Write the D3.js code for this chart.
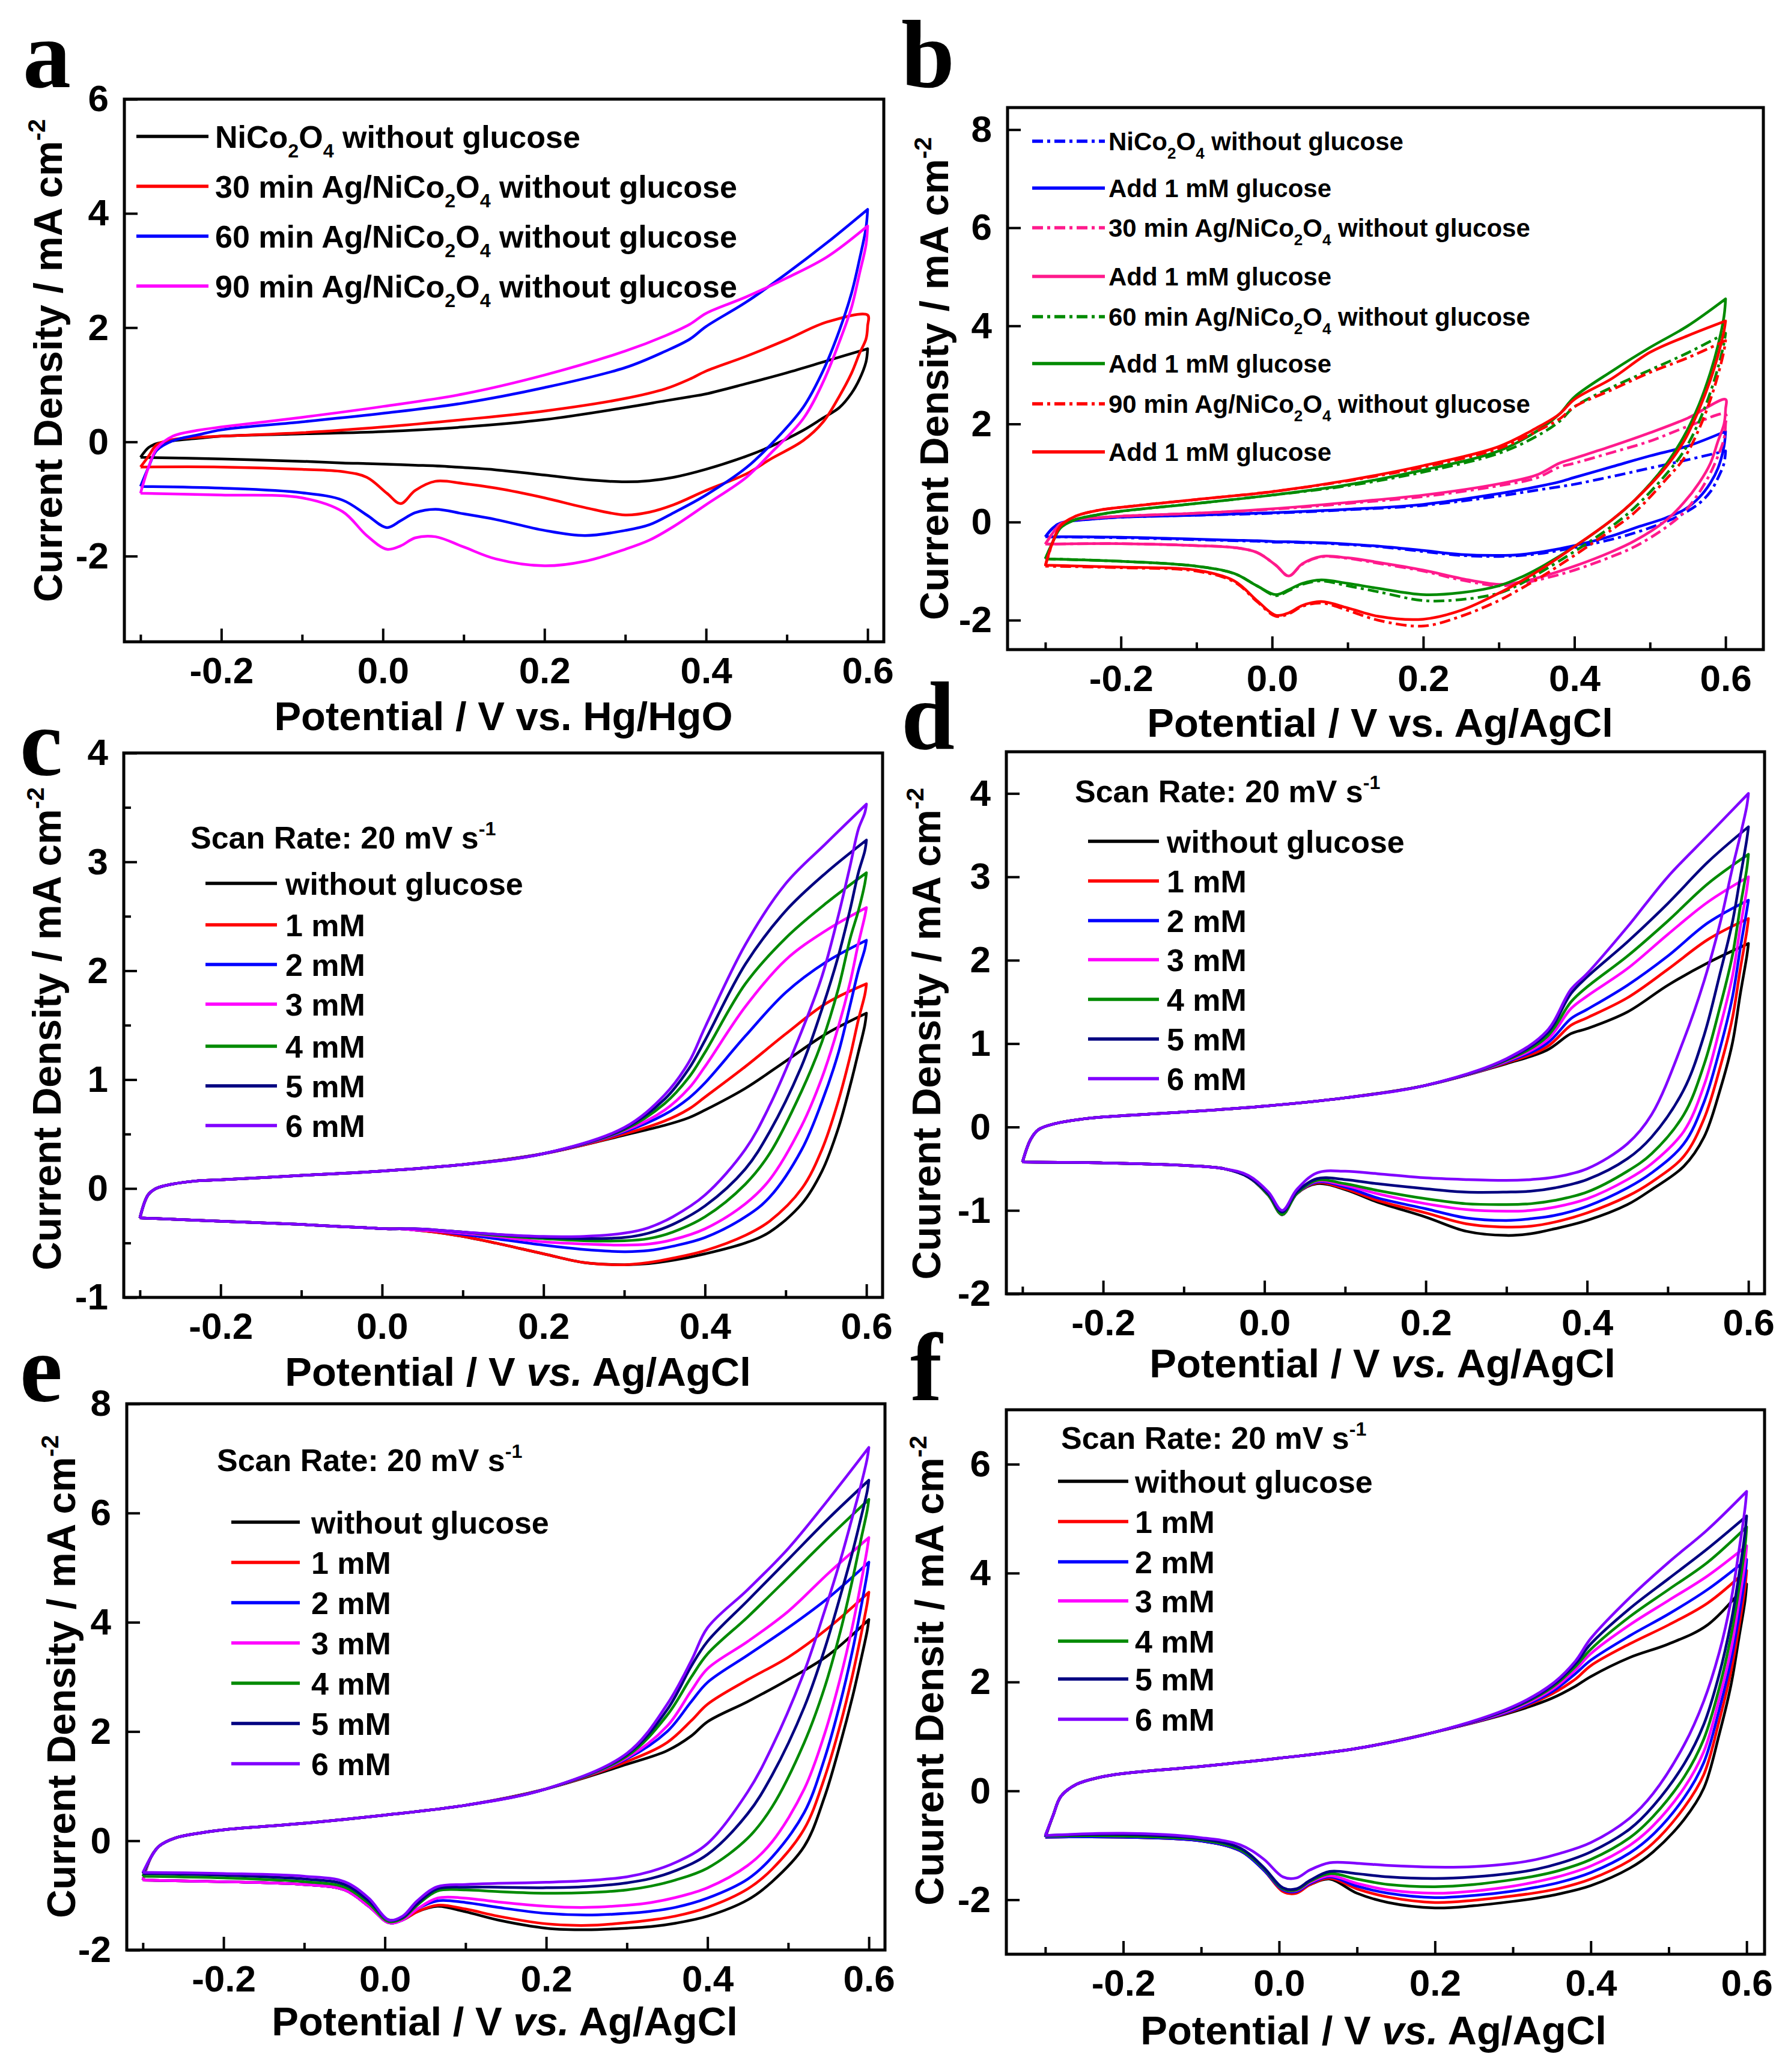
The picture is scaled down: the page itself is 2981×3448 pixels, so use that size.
<!DOCTYPE html>
<html>
<head>
<meta charset="utf-8">
<script src="https://cdn.jsdelivr.net/npm/d3@7"></script>
<style>
  body { margin: 0; background: #fff; }
  text { font-family: "Liberation Sans", Arial, Helvetica, sans-serif; font-weight: bold; fill: #000; }
</style>
</head>
<body>
<script>
// potential grids (V) : forward scan and reverse scan
var potUp = [-0.3, -0.29, -0.28, -0.26, -0.23, -0.2, -0.1, 0, 0.1, 0.2, 0.3, 0.35, 0.38, 0.4, 0.45, 0.5, 0.55, 0.6];
var potDown = [0.6, 0.598, 0.59, 0.58, 0.565, 0.545, 0.52, 0.48, 0.45, 0.4, 0.36, 0.33, 0.3, 0.25, 0.2, 0.14, 0.1, 0.065, 0.04, 0.022, 0.005, -0.02, -0.05, -0.1, -0.2, -0.3];

var xMajor = [-0.2, 0, 0.2, 0.4, 0.6];
var xMinor = [-0.3, -0.1, 0.1, 0.3, 0.5];

// ---- panel a : current density (mA cm-2) ----
var aLabels = ["NiCo_2O_4 without glucose", "30 min Ag/NiCo_2O_4 without glucose", "60 min Ag/NiCo_2O_4 without glucose", "90 min Ag/NiCo_2O_4 without glucose"];
var aBlackUp = [-0.27, -0.1, -0.03, 0.02, 0.06, 0.1, 0.14, 0.18, 0.26, 0.39, 0.6, 0.72, 0.79, 0.84, 1.02, 1.21, 1.42, 1.63];
var aBlackDown = [1.63, 1.4, 1.1, 0.85, 0.6, 0.42, 0.2, -0.08, -0.25, -0.48, -0.62, -0.68, -0.7, -0.66, -0.58, -0.49, -0.45, -0.42, -0.41, -0.4, -0.39, -0.38, -0.37, -0.34, -0.3, -0.27];
var aRedUp = [-0.44, -0.25, -0.05, 0.04, 0.08, 0.1, 0.16, 0.26, 0.39, 0.54, 0.76, 0.93, 1.1, 1.24, 1.5, 1.79, 2.1, 2.22];
var aRedDown = [2.03, 1.8, 1.55, 1.2, 0.8, 0.35, 0.02, -0.3, -0.56, -0.85, -1.1, -1.23, -1.28, -1.15, -0.98, -0.81, -0.73, -0.69, -0.85, -1.08, -0.9, -0.62, -0.52, -0.48, -0.44, -0.44];
var aBlueUp = [-0.78, -0.44, -0.15, 0.02, 0.12, 0.21, 0.35, 0.5, 0.68, 0.95, 1.3, 1.59, 1.8, 2.02, 2.45, 2.95, 3.49, 4.07];
var aBlueDown = [4.07, 3.75, 3.2, 2.6, 1.95, 1.25, 0.6, -0.05, -0.45, -0.93, -1.24, -1.45, -1.55, -1.64, -1.55, -1.36, -1.26, -1.18, -1.24, -1.38, -1.5, -1.28, -1.02, -0.89, -0.81, -0.78];
var aMagUp = [-0.9, -0.44, -0.12, 0.1, 0.2, 0.26, 0.43, 0.62, 0.84, 1.17, 1.59, 1.86, 2.06, 2.25, 2.54, 2.87, 3.24, 3.78];
var aMagDown = [3.78, 3.45, 2.95, 2.35, 1.75, 1.05, 0.4, -0.2, -0.62, -1.1, -1.48, -1.72, -1.88, -2.09, -2.17, -2.05, -1.84, -1.66, -1.68, -1.82, -1.88, -1.64, -1.22, -0.98, -0.93, -0.9];

// ---- panel b ----
var bLabels = ["NiCo_2O_4 without glucose", "Add 1 mM glucose", "30 min Ag/NiCo_2O_4 without glucose", "Add 1 mM glucose",
               "60 min Ag/NiCo_2O_4 without glucose", "Add 1 mM glucose", "90 min Ag/NiCo_2O_4 without glucose", "Add 1 mM glucose"];
var bBlueDashUp = [-0.3, -0.12, -0.02, 0.03, 0.07, 0.1, 0.14, 0.18, 0.25, 0.34, 0.53, 0.65, 0.72, 0.77, 0.93, 1.1, 1.27, 1.45];
var bBlueDashDown = [1.45, 1.2, 0.9, 0.62, 0.38, 0.18, 0.0, -0.22, -0.35, -0.52, -0.63, -0.68, -0.7, -0.68, -0.6, -0.5, -0.46, -0.43, -0.42, -0.41, -0.41, -0.39, -0.38, -0.36, -0.32, -0.3];
var bBlueUp = [-0.3, -0.12, -0.02, 0.03, 0.07, 0.1, 0.14, 0.19, 0.26, 0.36, 0.58, 0.72, 0.82, 0.91, 1.13, 1.35, 1.55, 1.85];
var bBlueDown = [1.85, 1.55, 1.1, 0.8, 0.5, 0.25, 0.08, -0.12, -0.28, -0.48, -0.6, -0.66, -0.68, -0.66, -0.58, -0.49, -0.45, -0.42, -0.41, -0.4, -0.4, -0.38, -0.37, -0.35, -0.31, -0.3];
var bPinkDashUp = [-0.45, -0.22, -0.04, 0.05, 0.09, 0.12, 0.18, 0.26, 0.38, 0.52, 0.74, 0.9, 1.12, 1.2, 1.42, 1.65, 1.95, 2.2];
var bPinkDashDown = [2.0, 1.7, 1.35, 1.0, 0.6, 0.2, -0.12, -0.5, -0.7, -0.98, -1.15, -1.25, -1.3, -1.18, -1.0, -0.84, -0.74, -0.71, -0.86, -1.1, -0.88, -0.62, -0.52, -0.48, -0.44, -0.45];
var bPinkUp = [-0.45, -0.22, -0.04, 0.05, 0.09, 0.12, 0.18, 0.27, 0.4, 0.55, 0.78, 0.96, 1.2, 1.3, 1.55, 1.82, 2.12, 2.5];
var bPinkDown = [2.3, 2.0, 1.65, 1.2, 0.8, 0.4, 0.02, -0.38, -0.6, -0.9, -1.1, -1.22, -1.27, -1.15, -0.98, -0.82, -0.73, -0.7, -0.85, -1.1, -0.88, -0.62, -0.52, -0.48, -0.44, -0.45];
var bGreenDashUp = [-0.75, -0.4, -0.12, 0.05, 0.15, 0.22, 0.38, 0.55, 0.74, 1.02, 1.4, 1.75, 2.05, 2.35, 2.75, 3.1, 3.45, 3.85];
var bGreenDashDown = [3.85, 3.65, 3.15, 2.65, 2.05, 1.45, 0.95, 0.3, -0.08, -0.6, -0.98, -1.25, -1.45, -1.58, -1.6, -1.42, -1.3, -1.2, -1.27, -1.4, -1.5, -1.3, -1.05, -0.9, -0.8, -0.75];
var bGreenUp = [-0.75, -0.4, -0.12, 0.05, 0.15, 0.22, 0.38, 0.55, 0.76, 1.06, 1.45, 1.85, 2.2, 2.55, 3.08, 3.56, 4.0, 4.55];
var bGreenDown = [4.55, 4.2, 3.6, 3.05, 2.4, 1.75, 1.15, 0.45, 0.05, -0.5, -0.88, -1.12, -1.3, -1.44, -1.48, -1.35, -1.25, -1.18, -1.25, -1.38, -1.48, -1.3, -1.05, -0.9, -0.8, -0.75];
var bRedDashUp = [-0.9, -0.4, -0.08, 0.12, 0.24, 0.3, 0.46, 0.62, 0.84, 1.12, 1.5, 1.85, 2.1, 2.35, 2.7, 3.05, 3.35, 3.7];
var bRedDashDown = [3.7, 3.5, 3.0, 2.5, 1.9, 1.3, 0.85, 0.2, -0.15, -0.68, -1.08, -1.35, -1.6, -1.92, -2.12, -2.0, -1.8, -1.65, -1.72, -1.87, -1.92, -1.62, -1.22, -1.0, -0.93, -0.9];
var bRedUp = [-0.88, -0.4, -0.08, 0.12, 0.24, 0.3, 0.46, 0.62, 0.85, 1.15, 1.54, 1.92, 2.2, 2.5, 2.93, 3.46, 3.8, 4.1];
var bRedDown = [4.1, 3.9, 3.4, 2.9, 2.3, 1.65, 1.1, 0.45, 0.05, -0.5, -0.92, -1.2, -1.45, -1.8, -1.98, -1.92, -1.75, -1.62, -1.7, -1.85, -1.9, -1.6, -1.2, -0.98, -0.92, -0.88];

// ---- panels c-f : glucose series ----
var concLabels = ["without glucose", "1 mM", "2 mM", "3 mM", "4 mM", "5 mM", "6 mM"];

var cBlackUp = [-0.27, -0.06, 0.0, 0.04, 0.07, 0.08, 0.12, 0.16, 0.22, 0.32, 0.49, 0.58, 0.65, 0.72, 0.92, 1.17, 1.42, 1.61];
var cRedUp = [-0.27, -0.06, 0.0, 0.04, 0.07, 0.08, 0.12, 0.16, 0.22, 0.32, 0.5, 0.62, 0.73, 0.84, 1.12, 1.42, 1.7, 1.88];
var cBlueUp = [-0.27, -0.06, 0.0, 0.04, 0.07, 0.08, 0.12, 0.16, 0.22, 0.32, 0.52, 0.68, 0.83, 0.97, 1.4, 1.8, 2.08, 2.28];
var cMagUp = [-0.27, -0.06, 0.0, 0.04, 0.07, 0.08, 0.12, 0.16, 0.22, 0.32, 0.53, 0.72, 0.92, 1.12, 1.67, 2.1, 2.37, 2.58];
var cGreenUp = [-0.27, -0.06, 0.0, 0.04, 0.07, 0.08, 0.12, 0.16, 0.22, 0.32, 0.54, 0.78, 1.02, 1.25, 1.88, 2.3, 2.62, 2.9];
var cNavyUp = [-0.27, -0.06, 0.0, 0.04, 0.07, 0.08, 0.12, 0.16, 0.22, 0.32, 0.55, 0.82, 1.1, 1.36, 2.06, 2.55, 2.9, 3.2];
var cPurpleUp = [-0.27, -0.06, 0.0, 0.04, 0.07, 0.08, 0.12, 0.16, 0.22, 0.32, 0.56, 0.86, 1.16, 1.48, 2.24, 2.8, 3.17, 3.53];
var cBlackDown = [1.61, 1.5, 1.25, 0.95, 0.55, 0.16, -0.14, -0.4, -0.5, -0.6, -0.66, -0.69, -0.7, -0.68, -0.6, -0.5, -0.44, -0.4, -0.38, -0.37, -0.37, -0.36, -0.35, -0.33, -0.3, -0.27];
var cRedDown = [1.88, 1.78, 1.55, 1.22, 0.8, 0.36, 0.0, -0.3, -0.43, -0.57, -0.64, -0.68, -0.7, -0.68, -0.6, -0.5, -0.44, -0.4, -0.38, -0.37, -0.37, -0.36, -0.35, -0.33, -0.3, -0.27];
var cBlueDown = [2.28, 2.2, 2.0, 1.69, 1.24, 0.8, 0.36, -0.08, -0.26, -0.45, -0.53, -0.57, -0.58, -0.56, -0.52, -0.46, -0.42, -0.39, -0.38, -0.37, -0.37, -0.36, -0.35, -0.33, -0.3, -0.27];
var cMagDown = [2.58, 2.5, 2.25, 1.9, 1.48, 1.02, 0.58, 0.08, -0.14, -0.37, -0.47, -0.51, -0.52, -0.51, -0.49, -0.44, -0.41, -0.39, -0.38, -0.37, -0.37, -0.36, -0.35, -0.33, -0.3, -0.27];
var cGreenDown = [2.9, 2.8, 2.55, 2.3, 1.83, 1.35, 0.9, 0.32, 0.04, -0.26, -0.4, -0.46, -0.48, -0.48, -0.46, -0.43, -0.4, -0.38, -0.37, -0.37, -0.37, -0.36, -0.35, -0.33, -0.3, -0.27];
var cNavyDown = [3.2, 3.1, 2.9, 2.57, 2.13, 1.65, 1.13, 0.52, 0.18, -0.16, -0.33, -0.41, -0.45, -0.46, -0.45, -0.42, -0.4, -0.38, -0.37, -0.37, -0.37, -0.36, -0.35, -0.33, -0.3, -0.27];
var cPurpleDown = [3.53, 3.45, 3.3, 2.97, 2.5, 1.95, 1.45, 0.76, 0.36, -0.06, -0.26, -0.36, -0.41, -0.44, -0.44, -0.42, -0.4, -0.38, -0.37, -0.37, -0.37, -0.36, -0.35, -0.33, -0.3, -0.27];

var dBlackUp = [-0.42, -0.15, -0.03, 0.04, 0.09, 0.12, 0.18, 0.25, 0.35, 0.5, 0.76, 0.92, 1.12, 1.18, 1.38, 1.7, 1.97, 2.2];
var dRedUp = [-0.42, -0.15, -0.03, 0.04, 0.09, 0.12, 0.18, 0.25, 0.35, 0.5, 0.77, 0.96, 1.22, 1.31, 1.55, 1.89, 2.25, 2.5];
var dBlueUp = [-0.42, -0.15, -0.03, 0.04, 0.09, 0.12, 0.18, 0.25, 0.35, 0.5, 0.78, 1.0, 1.3, 1.41, 1.7, 2.05, 2.45, 2.72];
var dMagUp = [-0.42, -0.15, -0.03, 0.04, 0.09, 0.12, 0.18, 0.25, 0.35, 0.5, 0.79, 1.04, 1.42, 1.57, 1.9, 2.31, 2.7, 3.0];
var dGreenUp = [-0.42, -0.15, -0.03, 0.04, 0.09, 0.12, 0.18, 0.25, 0.35, 0.5, 0.8, 1.08, 1.5, 1.68, 2.05, 2.47, 2.92, 3.27];
var dNavyUp = [-0.42, -0.15, -0.03, 0.04, 0.09, 0.12, 0.18, 0.25, 0.35, 0.5, 0.81, 1.12, 1.6, 1.8, 2.22, 2.68, 3.18, 3.6];
var dPurpleUp = [-0.42, -0.15, -0.03, 0.04, 0.09, 0.12, 0.18, 0.25, 0.35, 0.5, 0.82, 1.15, 1.65, 1.84, 2.4, 3.0, 3.5, 4.0];
var dBlackDown = [2.2, 2.05, 1.6, 1.0, 0.45, -0.12, -0.47, -0.75, -0.93, -1.12, -1.22, -1.28, -1.3, -1.25, -1.08, -0.9, -0.75, -0.68, -0.8, -1.05, -0.82, -0.6, -0.5, -0.46, -0.43, -0.42];
var dRedDown = [2.5, 2.35, 1.9, 1.3, 0.72, 0.1, -0.35, -0.66, -0.83, -1.03, -1.14, -1.19, -1.2, -1.16, -1.03, -0.88, -0.74, -0.67, -0.8, -1.05, -0.82, -0.6, -0.5, -0.46, -0.43, -0.42];
var dBlueDown = [2.72, 2.6, 2.15, 1.55, 0.95, 0.3, -0.2, -0.55, -0.73, -0.95, -1.06, -1.1, -1.12, -1.09, -0.98, -0.85, -0.72, -0.66, -0.8, -1.05, -0.82, -0.6, -0.5, -0.46, -0.43, -0.42];
var dMagDown = [3.0, 2.85, 2.4, 1.8, 1.2, 0.5, -0.05, -0.44, -0.63, -0.86, -0.96, -1.0, -1.01, -0.99, -0.92, -0.8, -0.7, -0.65, -0.8, -1.05, -0.82, -0.6, -0.5, -0.46, -0.43, -0.42];
var dGreenDown = [3.27, 3.1, 2.65, 2.05, 1.45, 0.75, 0.15, -0.32, -0.53, -0.78, -0.88, -0.92, -0.93, -0.92, -0.86, -0.76, -0.68, -0.64, -0.8, -1.05, -0.82, -0.6, -0.5, -0.46, -0.43, -0.42];
var dNavyDown = [3.6, 3.45, 3.0, 2.45, 1.85, 1.1, 0.45, -0.12, -0.38, -0.63, -0.73, -0.77, -0.78, -0.78, -0.74, -0.68, -0.63, -0.62, -0.78, -1.02, -0.8, -0.6, -0.5, -0.46, -0.43, -0.42];
var dPurpleDown = [4.0, 3.85, 3.5, 3.1, 2.45, 1.75, 1.05, 0.15, -0.2, -0.5, -0.6, -0.63, -0.64, -0.63, -0.61, -0.56, -0.53, -0.55, -0.75, -1.0, -0.78, -0.58, -0.5, -0.46, -0.43, -0.42];

var eBlackUp = [-0.72, -0.3, -0.1, 0.05, 0.14, 0.2, 0.32, 0.47, 0.65, 0.95, 1.4, 1.65, 1.92, 2.18, 2.55, 2.95, 3.4, 4.05];
var eRedUp = [-0.72, -0.3, -0.1, 0.05, 0.14, 0.2, 0.32, 0.47, 0.65, 0.95, 1.45, 1.8, 2.2, 2.5, 2.95, 3.36, 3.9, 4.55];
var eBlueUp = [-0.72, -0.3, -0.1, 0.05, 0.14, 0.2, 0.32, 0.47, 0.65, 0.95, 1.5, 2.0, 2.55, 2.9, 3.4, 3.9, 4.45, 5.1];
var eMagUp = [-0.72, -0.3, -0.1, 0.05, 0.14, 0.2, 0.32, 0.47, 0.65, 0.95, 1.52, 2.1, 2.75, 3.15, 3.65, 4.2, 4.9, 5.55];
var eGreenUp = [-0.65, -0.3, -0.1, 0.05, 0.14, 0.2, 0.32, 0.47, 0.65, 0.95, 1.55, 2.3, 3.0, 3.42, 4.1, 4.82, 5.55, 6.25];
var eNavyUp = [-0.6, -0.3, -0.1, 0.05, 0.14, 0.2, 0.32, 0.47, 0.65, 0.95, 1.58, 2.4, 3.2, 3.65, 4.4, 5.15, 5.9, 6.6];
var ePurpleUp = [-0.58, -0.3, -0.1, 0.05, 0.14, 0.2, 0.32, 0.47, 0.65, 0.95, 1.6, 2.5, 3.3, 3.9, 4.6, 5.35, 6.25, 7.2];
var eBlackDown = [4.05, 3.85, 3.3, 2.65, 1.8, 0.8, -0.1, -0.75, -1.08, -1.38, -1.51, -1.57, -1.6, -1.63, -1.6, -1.45, -1.3, -1.2, -1.3, -1.45, -1.5, -1.2, -0.9, -0.8, -0.75, -0.72];
var eRedDown = [4.55, 4.35, 3.75, 3.05, 2.15, 1.15, 0.22, -0.52, -0.88, -1.22, -1.38, -1.45, -1.5, -1.55, -1.52, -1.38, -1.25, -1.18, -1.3, -1.45, -1.5, -1.2, -0.9, -0.8, -0.75, -0.72];
var eBlueDown = [5.1, 4.9, 4.25, 3.5, 2.55, 1.5, 0.52, -0.3, -0.7, -1.05, -1.22, -1.29, -1.33, -1.36, -1.33, -1.22, -1.13, -1.1, -1.25, -1.45, -1.5, -1.2, -0.9, -0.8, -0.75, -0.72];
var eMagDown = [5.55, 5.35, 4.7, 3.95, 3.0, 1.95, 0.95, -0.02, -0.45, -0.86, -1.04, -1.13, -1.18, -1.22, -1.2, -1.12, -1.05, -1.05, -1.25, -1.45, -1.5, -1.2, -0.9, -0.8, -0.75, -0.72];
var eGreenDown = [6.25, 6.05, 5.5, 4.8, 3.85, 2.8, 1.8, 0.62, 0.05, -0.5, -0.72, -0.83, -0.9, -0.95, -0.96, -0.93, -0.9, -0.92, -1.18, -1.42, -1.48, -1.15, -0.85, -0.75, -0.68, -0.65];
var eNavyDown = [6.6, 6.4, 5.9, 5.3, 4.5, 3.5, 2.45, 1.2, 0.5, -0.25, -0.55, -0.69, -0.77, -0.84, -0.86, -0.85, -0.85, -0.88, -1.15, -1.4, -1.45, -1.1, -0.8, -0.7, -0.63, -0.6];
var ePurpleDown = [7.2, 7.0, 6.5, 5.95, 5.15, 4.2, 3.1, 1.72, 0.9, -0.05, -0.4, -0.56, -0.66, -0.73, -0.76, -0.78, -0.8, -0.84, -1.1, -1.38, -1.45, -1.05, -0.75, -0.65, -0.6, -0.58];

var fBlackUp = [-0.85, -0.45, -0.1, 0.12, 0.25, 0.32, 0.45, 0.6, 0.78, 1.08, 1.45, 1.7, 1.92, 2.1, 2.45, 2.7, 3.05, 3.8];
var fRedUp = [-0.85, -0.45, -0.1, 0.12, 0.25, 0.32, 0.45, 0.6, 0.78, 1.08, 1.47, 1.78, 2.05, 2.3, 2.7, 3.05, 3.45, 4.05];
var fBlueUp = [-0.85, -0.45, -0.1, 0.12, 0.25, 0.32, 0.45, 0.6, 0.78, 1.08, 1.48, 1.82, 2.15, 2.4, 2.85, 3.25, 3.7, 4.25];
var fMagUp = [-0.83, -0.45, -0.1, 0.12, 0.25, 0.32, 0.45, 0.6, 0.78, 1.08, 1.5, 1.86, 2.22, 2.52, 3.05, 3.5, 3.95, 4.5];
var fGreenUp = [-0.83, -0.45, -0.1, 0.12, 0.25, 0.32, 0.45, 0.6, 0.78, 1.08, 1.52, 1.9, 2.28, 2.6, 3.2, 3.7, 4.2, 4.85];
var fNavyUp = [-0.82, -0.45, -0.1, 0.12, 0.25, 0.32, 0.45, 0.6, 0.78, 1.08, 1.53, 1.93, 2.33, 2.7, 3.35, 3.9, 4.45, 5.05];
var fPurpleUp = [-0.82, -0.45, -0.1, 0.12, 0.25, 0.32, 0.45, 0.6, 0.78, 1.08, 1.55, 1.96, 2.38, 2.8, 3.55, 4.2, 4.8, 5.5];
var fBlackDown = [3.8, 3.5, 2.8, 1.95, 1.05, 0.05, -0.52, -1.12, -1.42, -1.74, -1.89, -1.97, -2.03, -2.11, -2.15, -2.05, -1.88, -1.62, -1.72, -1.85, -1.82, -1.45, -1.1, -0.92, -0.85, -0.85];
var fRedDown = [4.05, 3.75, 3.0, 2.2, 1.3, 0.3, -0.3, -0.96, -1.28, -1.62, -1.79, -1.87, -1.93, -2.01, -2.05, -1.95, -1.8, -1.6, -1.72, -1.88, -1.85, -1.45, -1.1, -0.92, -0.85, -0.85];
var fBlueDown = [4.25, 3.95, 3.2, 2.4, 1.5, 0.52, -0.12, -0.8, -1.14, -1.5, -1.68, -1.77, -1.84, -1.92, -1.96, -1.88, -1.75, -1.58, -1.7, -1.85, -1.82, -1.45, -1.1, -0.92, -0.85, -0.85];
var fMagDown = [4.5, 4.2, 3.45, 2.6, 1.7, 0.72, 0.06, -0.64, -1.0, -1.38, -1.57, -1.67, -1.75, -1.84, -1.88, -1.82, -1.7, -1.56, -1.68, -1.83, -1.8, -1.42, -1.08, -0.9, -0.83, -0.83];
var fGreenDown = [4.85, 4.5, 3.7, 2.85, 1.9, 0.95, 0.26, -0.47, -0.86, -1.26, -1.46, -1.56, -1.63, -1.72, -1.76, -1.72, -1.62, -1.52, -1.66, -1.82, -1.8, -1.42, -1.08, -0.9, -0.83, -0.83];
var fNavyDown = [5.05, 4.75, 3.95, 3.1, 2.15, 1.22, 0.5, -0.28, -0.7, -1.12, -1.33, -1.44, -1.51, -1.58, -1.61, -1.58, -1.52, -1.48, -1.64, -1.8, -1.78, -1.4, -1.05, -0.88, -0.8, -0.82];
var fPurpleDown = [5.5, 5.2, 4.4, 3.5, 2.55, 1.65, 0.85, -0.05, -0.5, -0.95, -1.15, -1.26, -1.33, -1.39, -1.4, -1.37, -1.33, -1.32, -1.45, -1.6, -1.58, -1.25, -0.99, -0.86, -0.78, -0.82];

// colours
var cBlack = "#000000", cRed = "#ff0000", cBlue = "#0000ff", cMag = "#ff00ff",
    cGreen = "#008a00", cNavy = "#000080", cPurple = "#8000ff", cPink = "#ff1a8c";
var concColors = [cBlack, cRed, cBlue, cMag, cGreen, cNavy, cPurple];
var DASH = "18,7,5,7";

var svg = d3.select("body").append("svg")
  .attr("width", 2981).attr("height", 3448)
  .style("background", "#fff");

// text with _2 subscripts, ^{..} superscripts and *italic*
function richText(t, str, fs) {
  var parts = str.split(/(_\d|\^\{[^}]*\}|\*[^*]*\*)/).filter(function(s) { return s.length; });
  var shift = 0;
  parts.forEach(function(p) {
    var ts = t.append("tspan"), txt = p, dy;
    if (p[0] === "_") {
      txt = p.slice(1); dy = fs * 0.32 - shift; shift = fs * 0.32;
      ts.attr("font-size", fs * 0.62);
    } else if (p[0] === "^") {
      txt = p.slice(2, -1); dy = -fs * 0.42 - shift; shift = -fs * 0.42;
      ts.attr("font-size", fs * 0.62);
    } else if (p[0] === "*") {
      txt = p.slice(1, -1); dy = -shift; shift = 0;
      ts.attr("font-style", "italic");
    } else {
      dy = -shift; shift = 0;
    }
    if (dy) ts.attr("dy", dy);
    ts.text(txt);
  });
}

function makeSeries(ups, downs, colors, labels, dashes) {
  return ups.map(function(u, i) {
    return { up: u, down: downs[i], color: colors[i], label: labels[i], dash: dashes ? dashes[i] : false };
  });
}

function drawPanel(p) {
  var L = p.box[0], R = p.box[1], T = p.box[2], B = p.box[3];
  var x = d3.scaleLinear().domain(p.xDomain).range([L, R]);
  var y = d3.scaleLinear().domain(p.yDomain).range([B, T]);
  var g = svg.append("g");

  var line = d3.line()
    .x(function(d) { return x(d[0]); })
    .y(function(d) { return y(d[1]); })
    .curve(d3.curveCatmullRom.alpha(0.5));

  p.series.forEach(function(s) {
    var pts = potUp.map(function(v, i) { return [v, s.up[i]]; })
      .concat(potDown.map(function(v, i) { return [v, s.down[i]]; }));
    g.append("path")
      .attr("d", line(pts))
      .attr("fill", "none")
      .attr("stroke", s.color)
      .attr("stroke-width", 4.5)
      .attr("stroke-linejoin", "round")
      .attr("stroke-dasharray", s.dash ? DASH : null);
  });

  // x axis (ticks pointing inward)
  var gx = g.append("g").attr("transform", "translate(0," + B + ")")
    .call(d3.axisBottom(x).tickValues(xMajor).tickSize(-22).tickSizeOuter(0).tickPadding(24)
      .tickFormat(function(d) { return d.toFixed(1); }));
  g.append("g").attr("transform", "translate(0," + B + ")")
    .call(d3.axisBottom(x).tickValues(xMinor).tickSize(-12).tickSizeOuter(0).tickFormat(""));
  g.append("g").attr("transform", "translate(" + L + ",0)")
    .call(d3.axisLeft(y).tickValues(p.yTicks).tickSize(-22).tickSizeOuter(0).tickPadding(26)
      .tickFormat(function(d) { return String(d); }));
  if (p.yMinor) {
    g.append("g").attr("transform", "translate(" + L + ",0)")
      .call(d3.axisLeft(y).tickValues(p.yMinor).tickSize(-12).tickSizeOuter(0).tickFormat(""));
  }
  g.selectAll(".domain").remove();
  g.selectAll(".tick line").attr("stroke", "#000").attr("stroke-width", 4);
  g.selectAll(".tick text")
    .attr("font-size", 62)
    .attr("font-family", null)
    .attr("fill", "#000");
  gx.selectAll(".tick text").attr("dy", "0.72em");

  // frame
  g.append("rect")
    .attr("x", L).attr("y", T).attr("width", R - L).attr("height", B - T)
    .attr("fill", "none").attr("stroke", "#000").attr("stroke-width", 5);

  // titles
  var xt = svg.append("text").attr("x", p.xTitle[0]).attr("y", p.xTitle[1])
    .attr("text-anchor", "middle").attr("font-size", 67);
  richText(xt, p.xTitle[2], 67);
  var yt = svg.append("text")
    .attr("transform", "translate(" + p.yTitle[0] + "," + p.yTitle[1] + ") rotate(-90)")
    .attr("text-anchor", "middle").attr("font-size", 66);
  richText(yt, p.yTitle[2], 66);

  // panel letter
  svg.append("text").attr("x", p.letter[0]).attr("y", p.letter[1])
    .style("font-family", "'Liberation Serif', 'Times New Roman', serif")
    .attr("font-size", 160).text(p.letter[2]);

  // legend
  var lg = p.legend;
  if (lg.scan) {
    var st = svg.append("text").attr("x", lg.scan[0]).attr("y", lg.scan[1] + 0.36 * lg.fs)
      .attr("font-size", lg.fs);
    richText(st, "Scan Rate: 20 mV s^{-1}", lg.fs);
  }
  p.series.forEach(function(s, i) {
    var yy = lg.rows[i];
    svg.append("line")
      .attr("x1", lg.x1).attr("x2", lg.x2).attr("y1", yy).attr("y2", yy)
      .attr("stroke", s.color).attr("stroke-width", 5.5)
      .attr("stroke-dasharray", s.dash ? DASH : null);
    var t = svg.append("text").attr("x", lg.tx).attr("y", yy + 0.36 * lg.fs)
      .attr("font-size", lg.fs);
    richText(t, s.label, lg.fs);
  });
}

var yTitle = "Current Density / mA cm^{-2}";
var xTitleIt = "Potential / V *vs.* Ag/AgCl";

var panels = [
  {
    box: [207, 1471, 165, 1068], xDomain: [-0.32, 0.62], yDomain: [-3.5, 6],
    yTicks: [-2, 0, 2, 4, 6],
    series: makeSeries([aBlackUp, aRedUp, aBlueUp, aMagUp], [aBlackDown, aRedDown, aBlueDown, aMagDown],
      [cBlack, cRed, cBlue, cMag], aLabels),
    xTitle: [838, 1215, "Potential / V vs. Hg/HgO"], yTitle: [103, 600, yTitle], letter: [38, 145, "a"],
    legend: { rows: [227, 310, 393, 476], x1: 227, x2: 347, tx: 358, fs: 52 }
  },
  {
    box: [1677, 2935, 179, 1081], xDomain: [-0.35, 0.65], yDomain: [-2.6, 8.45],
    yTicks: [-2, 0, 2, 4, 6, 8],
    series: makeSeries([bBlueDashUp, bBlueUp, bPinkDashUp, bPinkUp, bGreenDashUp, bGreenUp, bRedDashUp, bRedUp],
      [bBlueDashDown, bBlueDown, bPinkDashDown, bPinkDown, bGreenDashDown, bGreenDown, bRedDashDown, bRedDown],
      [cBlue, cBlue, cPink, cPink, cGreen, cGreen, cRed, cRed], bLabels,
      [true, false, true, false, true, false, true, false]),
    xTitle: [2297, 1226, "Potential / V vs. Ag/AgCl"], yTitle: [1578, 630, yTitle], letter: [1500, 145, "b"],
    legend: { rows: [235, 313, 379, 460, 527, 605, 672, 752], x1: 1718, x2: 1839, tx: 1845, fs: 42 }
  },
  {
    box: [206, 1469, 1253, 2159], xDomain: [-0.32, 0.62], yDomain: [-1, 4],
    yTicks: [-1, 0, 1, 2, 3, 4], yMinor: [-0.5, 0.5, 1.5, 2.5, 3.5],
    series: makeSeries([cBlackUp, cRedUp, cBlueUp, cMagUp, cGreenUp, cNavyUp, cPurpleUp],
      [cBlackDown, cRedDown, cBlueDown, cMagDown, cGreenDown, cNavyDown, cPurpleDown], concColors, concLabels),
    xTitle: [862, 2306, xTitleIt], yTitle: [101, 1712, yTitle], letter: [33, 1290, "c"],
    legend: { scan: [317, 1393], rows: [1470, 1539, 1605, 1671, 1741, 1807, 1873], x1: 342, x2: 461, tx: 475, fs: 52 }
  },
  {
    box: [1675, 2937, 1251, 2153], xDomain: [-0.32, 0.62], yDomain: [-2, 4.5],
    yTicks: [-2, -1, 0, 1, 2, 3, 4],
    series: makeSeries([dBlackUp, dRedUp, dBlueUp, dMagUp, dGreenUp, dNavyUp, dPurpleUp],
      [dBlackDown, dRedDown, dBlueDown, dMagDown, dGreenDown, dNavyDown, dPurpleDown], concColors, concLabels),
    xTitle: [2301, 2292, xTitleIt], yTitle: [1565, 1720, "Cuurent Density / mA cm^{-2}"], letter: [1500, 1246, "d"],
    legend: { scan: [1789, 1316], rows: [1400, 1466, 1532, 1597, 1663, 1729, 1795], x1: 1811, x2: 1929, tx: 1942, fs: 52 }
  },
  {
    box: [211, 1473, 2336, 3245], xDomain: [-0.32, 0.62], yDomain: [-2, 8],
    yTicks: [-2, 0, 2, 4, 6, 8],
    series: makeSeries([eBlackUp, eRedUp, eBlueUp, eMagUp, eGreenUp, eNavyUp, ePurpleUp],
      [eBlackDown, eRedDown, eBlueDown, eMagDown, eGreenDown, eNavyDown, ePurpleDown], concColors, concLabels),
    xTitle: [840, 3387, xTitleIt], yTitle: [125, 2790, yTitle], letter: [33, 2332, "e"],
    legend: { scan: [361, 2429], rows: [2533, 2600, 2667, 2734, 2801, 2868, 2935], x1: 385, x2: 499, tx: 518, fs: 52 }
  },
  {
    box: [1675, 2937, 2346, 3252], xDomain: [-0.35, 0.623], yDomain: [-3, 7],
    yTicks: [-2, 0, 2, 4, 6],
    series: makeSeries([fBlackUp, fRedUp, fBlueUp, fMagUp, fGreenUp, fNavyUp, fPurpleUp],
      [fBlackDown, fRedDown, fBlueDown, fMagDown, fGreenDown, fNavyDown, fPurpleDown], concColors, concLabels),
    xTitle: [2286, 3402, xTitleIt], yTitle: [1570, 2780, "Cuurent Densit / mA cm^{-2}"], letter: [1515, 2330, "f"],
    legend: { scan: [1766, 2392], rows: [2465, 2532, 2599, 2664, 2731, 2794, 2861], x1: 1761, x2: 1878, tx: 1889, fs: 52 }
  }
];

panels.forEach(drawPanel);
</script>
</body>
</html>
